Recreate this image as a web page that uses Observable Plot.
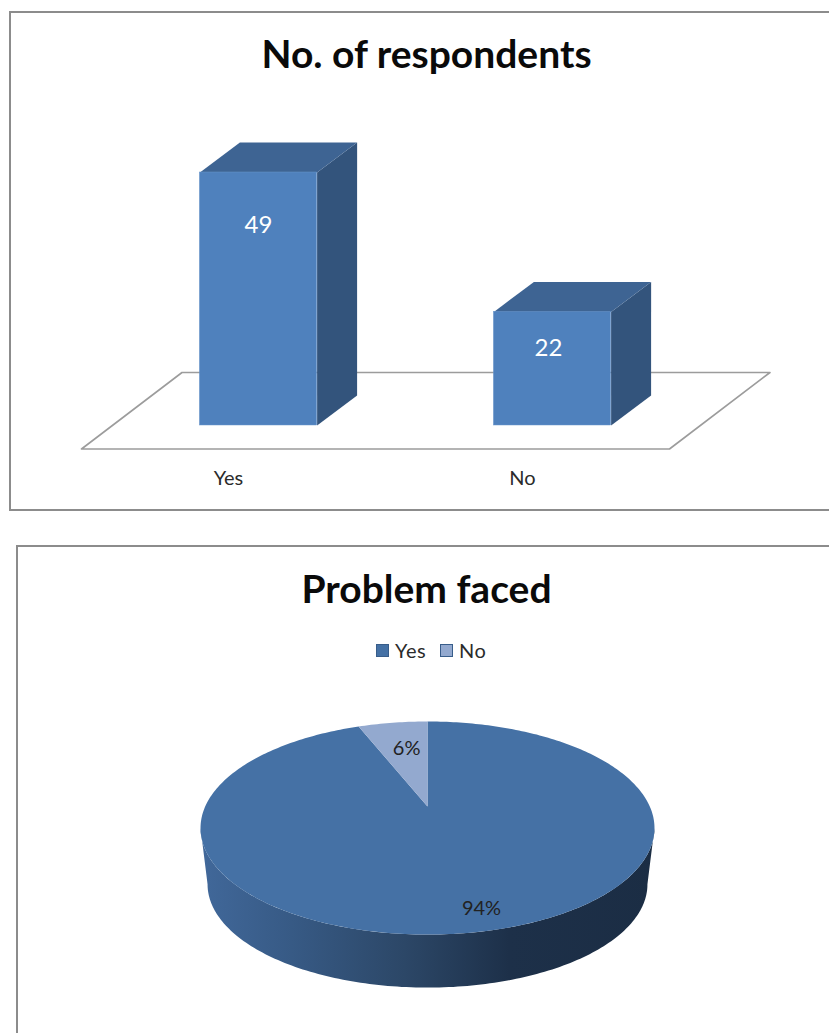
<!DOCTYPE html>
<html>
<head>
<meta charset="utf-8">
<script src="https://cdn.jsdelivr.net/npm/d3@7"></script>
<script src="https://cdn.jsdelivr.net/npm/@observablehq/plot@0.6"></script>
<style>
  html, body { margin: 0; padding: 0; background: #fff; overflow: hidden; }
  body { position: relative; width: 829px; height: 1033px; font-family: Lato, sans-serif; }
  .frame { position: absolute; box-sizing: border-box; border: 2px solid #8c8c8c; background: #fff; }
  .title { position: absolute; left: 0; width: 853px; text-align: center; font-weight: 700; font-size: 39px; line-height: 44px; color: #0a0a0a; white-space: nowrap; }
  .plot { position: absolute; left: 0; }
  .plot svg { display: block; background: transparent; }
  .legend { position: absolute; top: 637px; font-size: 20px; line-height: 26px; color: #2b2b2b; letter-spacing: 0.6px; }
  .swatch { position: absolute; top: 644px; width: 11px; height: 11px; border: 1.5px solid; }
</style>
</head>
<body>
<div class="frame" style="left:9px; top:11px; width:830px; height:500px"></div>
<div class="frame" style="left:16px; top:545px; width:830px; height:520px"></div>
<div class="title" style="top:31px">No. of respondents</div>
<div class="title" style="top:566px">Problem faced</div>
<div id="bars" class="plot" style="top:0"></div>
<div id="pie" class="plot" style="top:546px"></div>
<div id="legend"></div>
<script>
// Survey answers: respondents per category
const categories = ["Yes", "No"];
const respondents = [49, 22];
const countLabelLevel = [38.7, 14.9];
const countLabelShift = [0, -0.014];

// Share of respondents reporting a problem
const shares = [94, 6];
const shareLabelX = [0.243, -0.094];
const shareLabelY = [-0.998, 0.567];
const sliceColors = ["#4571a5", "#93a9cf"];
const swatchEdges = ["#385d8a", "#385d8a"];

// ---- Column chart: a box for each category standing on a skewed floor ----
const pxPerUnitX = 294;
const pxPerUnitY = 253 / 49;
const toUnitsX = (px) => px / pxPerUnitX;
const toUnitsY = (px) => px / pxPerUnitY;

const depthX = toUnitsX(40);
const depthY = toUnitsY(30);
const setBackX = toUnitsX(30);
const halfWidth = toUnitsX(58.6);

const bars = categories.map((name, i) => {
  const center = i + 0.5 + setBackX;
  return {name, value: respondents[i], x1: center - halfWidth, x2: center + halfWidth, labelX: center + countLabelShift[i], labelY: countLabelLevel[i]};
});

const topFaces = bars.flatMap((b) => [
  {id: b.name, x: b.x1, y: b.value},
  {id: b.name, x: b.x2, y: b.value},
  {id: b.name, x: b.x2 + depthX, y: b.value + depthY},
  {id: b.name, x: b.x1 + depthX, y: b.value + depthY}
]);
const sideFaces = bars.flatMap((b) => [
  {id: b.name, x: b.x2, y: 0},
  {id: b.name, x: b.x2, y: b.value},
  {id: b.name, x: b.x2 + depthX, y: b.value + depthY},
  {id: b.name, x: b.x2 + depthX, y: depthY}
]);

const floorFront = toUnitsY(-23.5);
const floorBack = toUnitsY(53);
const floorSkew = toUnitsX(100.5);
const floor = [
  {x: 0, y: floorFront},
  {x: 2, y: floorFront},
  {x: 2 + floorSkew, y: floorBack},
  {x: floorSkew, y: floorBack},
  {x: 0, y: floorFront}
];

document.getElementById("bars").append(Plot.plot({
  width: 829,
  height: 510,
  marginLeft: 81,
  marginRight: 160,
  marginTop: 172,
  marginBottom: 85,
  x: {type: "linear", domain: [0, 2], range: [81, 669]},
  y: {domain: [0, 49], range: [425, 172], axis: null},
  marks: [
    Plot.line(floor, {x: "x", y: "y", stroke: "#9c9c9c", strokeWidth: 1.6}),
    Plot.line(sideFaces, {x: "x", y: "y", z: "id", fill: "#33547c", stroke: "none"}),
    Plot.line(topFaces, {x: "x", y: "y", z: "id", fill: "#3e6493", stroke: "none"}),
    Plot.rectY(bars, {x1: "x1", x2: "x2", y: "value", fill: "#4f81bd", stroke: "#6a96cc", strokeWidth: 0.5}),
    Plot.text(bars, {x: "labelX", y: "labelY", text: (d) => String(d.value), fill: "#ffffff", fontSize: 24, fontFamily: "Lato, sans-serif"}),
    Plot.axisX({
      ticks: categories.map((_, i) => i + 0.5),
      tickFormat: (t) => categories[Math.floor(t)],
      tickSize: 0,
      tickPadding: 45,
      fontSize: 20,
      fontFamily: "Lato, sans-serif",
      color: "#2b2b2b",
      label: null
    })
  ]
}));

// ---- Pie chart: a tilted disc seen in perspective with a shaded wall ----
const perspective = 0.202;
const radiusX = 222.3;
const radiusY = 102.2;
const wallShrink = 0.969;
const wallDrop = 57 / radiusY;

// Maps a clockwise angle on the disc to plot coordinates
function rimPoint(theta, shrink = 1, drop = 0) {
  const w = 1 + perspective * Math.cos(theta);
  return {x: shrink * Math.sin(theta) / w, y: shrink * Math.cos(theta) / w - drop};
}
function arcPoints(from, to, shrink, drop) {
  const steps = Math.ceil(Math.abs(to - from) / (Math.PI / 180));
  return d3.range(steps + 1).map((i) => rimPoint(from + (to - from) * i / steps, shrink, drop));
}

const arcs = d3.pie().sort(null)(shares);
const slices = arcs.flatMap((a, i) => [{x: 0, y: 0}, ...arcPoints(a.startAngle, a.endAngle), {x: 0, y: 0}]
  .map((p) => ({...p, id: categories[i]})));

// The wall runs between the two outermost points of the disc outline
const wallStart = Math.acos(-perspective);
const wallEnd = 2 * Math.PI - wallStart;
const wall = [...arcPoints(wallStart, wallEnd), ...arcPoints(wallEnd, wallStart, wallShrink, wallDrop)];

const shareLabels = shares.map((s, i) => ({text: `${s}%`, x: shareLabelX[i], y: shareLabelY[i]}));

const wallGradient = () => {
  const defs = d3.create("svg:defs");
  const gradient = defs.append("linearGradient").attr("id", "wall-shade");
  [[0, "#41689a"], [0.2, "#375a85"], [0.45, "#2c4767"], [0.68, "#1d3049"], [1, "#1b2d44"]].forEach(([o, c]) => {
    gradient.append("stop").attr("offset", o).attr("stop-color", c);
  });
  return defs.node();
};

document.getElementById("pie").append(Plot.plot({
  width: 829,
  height: 487,
  margin: 0,
  x: {domain: [-427 / radiusX, 402 / radiusX], range: [0, 829], axis: null},
  y: {domain: [(260 - 487) / radiusY, 260 / radiusY], range: [487, 0], axis: null},
  marks: [
    wallGradient,
    Plot.line(wall, {x: "x", y: "y", fill: "url(#wall-shade)", stroke: "none"}),
    Plot.line(slices, {x: "x", y: "y", z: "id", fill: (d) => sliceColors[categories.indexOf(d.id)], stroke: "none"}),
    Plot.text(shareLabels, {x: "x", y: "y", text: "text", fill: "#222222", fontSize: 20, fontFamily: "Lato, sans-serif"})
  ],
  color: {type: "identity"}
}));

// ---- Legend for the pie slices ----
const legend = document.getElementById("legend");
const swatchLeft = [376, 440];
const textLeft = [395, 459];
categories.forEach((name, i) => {
  const swatch = document.createElement("div");
  swatch.className = "swatch";
  swatch.style.left = swatchLeft[i] + "px";
  swatch.style.background = sliceColors[i];
  swatch.style.borderColor = swatchEdges[i];
  const label = document.createElement("div");
  label.className = "legend";
  label.style.left = textLeft[i] + "px";
  label.textContent = name;
  legend.append(swatch, label);
});
</script>
</body>
</html>
